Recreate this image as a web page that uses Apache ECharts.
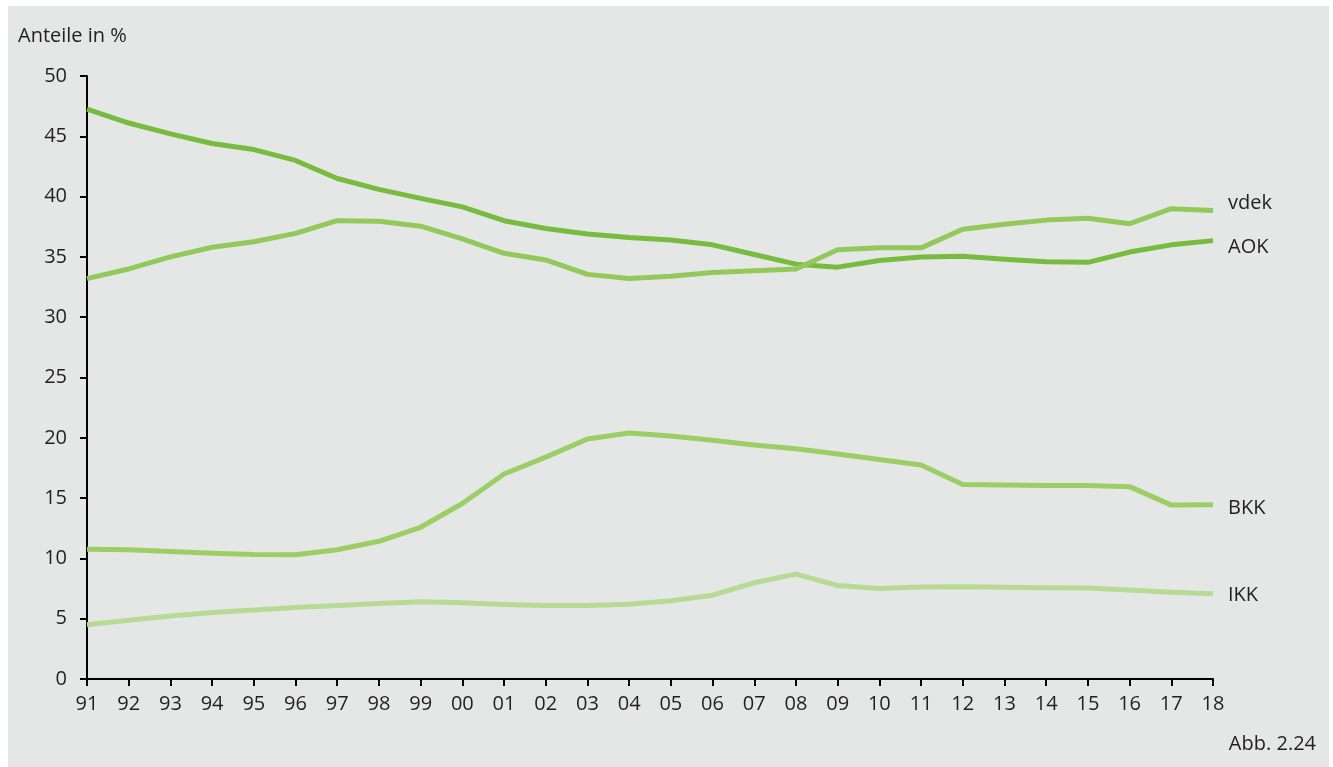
<!DOCTYPE html>
<html>
<head>
<meta charset="utf-8">
<script src="https://cdn.jsdelivr.net/npm/echarts@6/dist/echarts.min.js"></script>
<style>
html,body{margin:0;padding:0;background:#ffffff;}
#chart{width:1333px;height:767px;}
</style>
</head>
<body>
<div id="chart"></div>
<script>
const years = ['91','92','93','94','95','96','97','98','99','00','01','02','03','04','05','06','07','08','09','10','11','12','13','14','15','16','17','18'];
const aok  = [47.25,46.1,45.2,44.4,43.9,43.0,41.5,40.6,39.85,39.15,38.0,37.35,36.9,36.6,36.4,36.0,35.2,34.4,34.15,34.7,35.0,35.05,34.8,34.6,34.55,35.4,36.0,36.35];
const vdek = [33.2,34.0,35.0,35.8,36.25,36.95,38.0,37.95,37.55,36.5,35.3,34.75,33.55,33.2,33.4,33.7,33.85,34.0,35.6,35.75,35.75,37.3,37.7,38.05,38.2,37.75,39.0,38.85];
const bkk  = [10.75,10.72,10.57,10.42,10.32,10.3,10.72,11.42,12.58,14.55,17.0,18.4,19.9,20.4,20.15,19.8,19.4,19.1,18.65,18.2,17.75,16.12,16.08,16.05,16.05,15.95,14.42,14.45];
const ikk  = [4.5,4.88,5.22,5.52,5.72,5.92,6.1,6.26,6.4,6.32,6.18,6.1,6.1,6.2,6.48,6.95,7.98,8.7,7.75,7.5,7.62,7.65,7.6,7.57,7.55,7.38,7.2,7.07];
const yTicks = [0,5,10,15,20,25,30,35,40,45,50];

const font = 'Open Sans';
const txt = '#231f20';
const chart = echarts.init(document.getElementById('chart'));

function mk(name, data, color, offY, z){
  return {
    name, type:'line', data, symbol:'none', smooth:false, z:z,
    lineStyle:{color:color, width:5, cap:'butt', join:'round'},
    endLabel:{show:true, formatter:name, color:txt, fontFamily:font, fontSize:20, offset:[7,offY]},
    emphasis:{disabled:true}
  };
}

chart.setOption({
  animation:false,
  backgroundColor:'#ffffff',
  graphic:[
    {type:'rect', z:-10, shape:{x:8,y:6,width:1321,height:761}, style:{fill:'#e5e7e6'}},
    {type:'text', left:18, top:26, style:{text:'Anteile in %', font:'20px "Open Sans"', fill:txt}},
    {type:'text', right:17, top:734, style:{text:'Abb. 2.24', font:'20px "Open Sans"', fill:txt}}
  ],
  grid:{left:87, right:120, top:76, bottom:88, containLabel:false},
  xAxis:{
    type:'category', data:years, boundaryGap:false,
    axisLine:{lineStyle:{color:'#000', width:2}},
    axisTick:{show:true, length:7, lineStyle:{color:'#000', width:2}, alignWithLabel:true},
    axisLabel:{color:txt, fontFamily:font, fontSize:20, margin:15, interval:0},
    splitLine:{show:false}
  },
  yAxis:{
    type:'value', min:0, max:50, interval:5,
    axisLine:{show:true, lineStyle:{color:'#000', width:2}},
    axisTick:{show:true, length:7, lineStyle:{color:'#000', width:2}},
    axisLabel:{color:txt, fontFamily:font, fontSize:20, margin:20,
      formatter:(v)=> yTicks.includes(v) ? String(v) : ''},
    splitLine:{show:false}
  },
  series:[
    mk('IKK', ikk, '#b7db94', 2, 2),
    mk('BKK', bkk, '#9bcf66', 4, 3),
    mk('AOK', aok, '#78bb3f', 7, 4),
    mk('vdek', vdek, '#92c95a', -7, 5)
  ]
});
</script>
</body>
</html>
